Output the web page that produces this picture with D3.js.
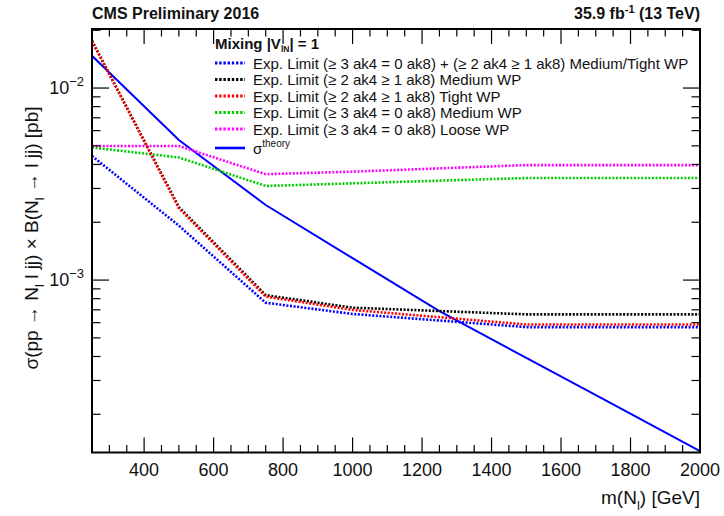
<!DOCTYPE html>
<html>
<head>
<meta charset="utf-8">
<script src="https://cdn.jsdelivr.net/npm/d3@7"></script>
<style>
  body { margin: 0; background: #fff; }
  svg { font-family: "Liberation Sans", Arial, sans-serif; }
</style>
</head>
<body>
<svg id="svg" width="724" height="516"></svg>
<script>
// masses (GeV)
const masses = [250, 500, 750, 1000, 1500, 2000];
const theoryMasses = [250, 500, 750, 1000, 1250, 1500, 1750, 2000];

// expected limits [pb]
const combined = [0.00443, 0.00192, 0.000762, 0.000666, 0.000569, 0.000569];
const boostedMedium = [0.0176, 0.00240, 0.000835, 0.000718, 0.000663, 0.000663];
const boostedTight = [0.0176, 0.00237, 0.000820, 0.000699, 0.000587, 0.000587];
const resolvedMedium = [0.0049, 0.00435, 0.00309, 0.00319, 0.0034, 0.0034];
const resolvedLoose = [0.00499, 0.00499, 0.00356, 0.00367, 0.00397, 0.00397];
const theory = [0.01473, 0.00536, 0.00246, 0.00130, 0.00069, 0.000393, 0.000225, 0.0001285];

const xTicks = [400, 600, 800, 1000, 1200, 1400, 1600, 1800, 2000];
const yDecades = [-2, -3];

const series = [
  { label: "Exp. Limit (\u2265 3 ak4 = 0 ak8) + (\u2265 2 ak4 \u2265 1 ak8) Medium/Tight WP", x: masses, y: combined, color: "#0000ff", dotted: true },
  { label: "Exp. Limit (\u2265 2 ak4 \u2265 1 ak8) Medium WP", x: masses, y: boostedMedium, color: "#000000", dotted: true },
  { label: "Exp. Limit (\u2265 2 ak4 \u2265 1 ak8) Tight WP", x: masses, y: boostedTight, color: "#ff0000", dotted: true },
  { label: "Exp. Limit (\u2265 3 ak4 = 0 ak8) Medium WP", x: masses, y: resolvedMedium, color: "#00cc00", dotted: true },
  { label: "Exp. Limit (\u2265 3 ak4 = 0 ak8) Loose WP", x: masses, y: resolvedLoose, color: "#ff00ff", dotted: true },
  { label: "theory", x: theoryMasses, y: theory, color: "#0000ff", dotted: false }
];

const svg = d3.select("#svg");
const margin = { top: 29, right: 24, bottom: 63.5, left: 92 };
const width = 724 - margin.left - margin.right;
const height = 516 - margin.top - margin.bottom;

const x = d3.scaleLinear().domain([250, 2000]).range([0, width]);
const y = d3.scaleLog().domain([1.265e-4, 0.0203]).range([height, 0]);

const g = svg.append("g").attr("transform", "translate(" + margin.left + "," + margin.top + ")");

svg.append("defs").append("clipPath").attr("id", "clip")
  .append("rect").attr("width", width).attr("height", height);

// lines
const line = d3.line().x(d => x(d[0])).y(d => y(d[1]));
const plot = g.append("g").attr("clip-path", "url(#clip)");
// draw order: theory first, then limits
[5, 3, 4, 0, 1, 2].forEach(i => {
  const s = series[i];
  plot.append("path")
    .datum(s.x.map((m, j) => [m, s.y[j]]))
    .attr("fill", "none")
    .attr("stroke", s.color)
    .attr("stroke-width", s.dotted ? 2.6 : 2)
    .attr("stroke-dasharray", s.dotted ? "2,1.6" : null)
    .attr("d", line);
});

// ticks (ROOT style, inward on all four sides)
const minorX = d3.range(250, 2001, 50);
const tickG = g.append("g").attr("stroke", "#000").attr("stroke-width", 1.2);
minorX.forEach(m => {
  const major = m % 200 === 0;
  const len = major ? 15 : 7.5;
  tickG.append("line").attr("x1", x(m)).attr("x2", x(m)).attr("y1", height).attr("y2", height - len);
  tickG.append("line").attr("x1", x(m)).attr("x2", x(m)).attr("y1", 0).attr("y2", len);
});
const yMinor = [];
[-4, -3, -2].forEach(e => {
  for (let k = 1; k <= 9; k++) yMinor.push({ v: k * Math.pow(10, e), major: k === 1 });
});
yMinor.filter(t => t.v >= y.domain()[0] && t.v <= y.domain()[1]).forEach(t => {
  const len = t.major ? 17 : 8.5;
  tickG.append("line").attr("x1", 0).attr("x2", len).attr("y1", y(t.v)).attr("y2", y(t.v));
  tickG.append("line").attr("x1", width).attr("x2", width - len).attr("y1", y(t.v)).attr("y2", y(t.v));
});

// frame
g.append("rect").attr("width", width).attr("height", height)
  .attr("fill", "none").attr("stroke", "#000").attr("stroke-width", 2);

// x tick labels
g.append("g").selectAll("text").data(xTicks).enter().append("text")
  .attr("x", d => x(d)).attr("y", height + 23)
  .attr("text-anchor", "middle").attr("font-size", 18).attr("fill", "#111")
  .text(d => d);

// y tick labels
yDecades.forEach(e => {
  const t = g.append("text").attr("x", -8).attr("y", y(Math.pow(10, e)) + 6)
    .attr("text-anchor", "end").attr("font-size", 18).attr("fill", "#111");
  t.append("tspan").text("10");
  t.append("tspan").attr("font-size", 13).attr("dy", -8).text("\u2212" + (-e));
});

// axis titles
const xt = svg.append("text").attr("x", 700).attr("y", 504)
  .attr("text-anchor", "end").attr("font-size", 19).attr("fill", "#111");
xt.append("tspan").text("m(N");
xt.append("tspan").attr("font-size", 13).attr("dy", 6).text("l");
xt.append("tspan").attr("dy", -6).text(") [GeV]");

const yt = svg.append("text").attr("transform", "translate(38," + 238 + ") rotate(-90)")
  .attr("text-anchor", "middle").attr("font-size", 19).attr("fill", "#111");
yt.append("tspan").text("\u03c3(pp \u2192 N");
yt.append("tspan").attr("font-size", 13).attr("dy", 6).text("l");
yt.append("tspan").attr("dy", -6).text(" l jj) \u00d7 B(N");
yt.append("tspan").attr("font-size", 13).attr("dy", 6).text("l");
yt.append("tspan").attr("dy", -6).text(" \u2192 l jj) [pb]");

// header
svg.append("text").attr("x", 92).attr("y", 19).attr("font-size", 16).attr("font-weight", "bold")
  .attr("fill", "#111").text("CMS Preliminary 2016");
const lumi = svg.append("text").attr("x", 700).attr("y", 19).attr("text-anchor", "end")
  .attr("font-size", 16).attr("font-weight", "bold").attr("fill", "#111");
lumi.append("tspan").text("35.9 fb");
lumi.append("tspan").attr("font-size", 11).attr("dy", -6).text("-1");
lumi.append("tspan").attr("dy", 6).text(" (13 TeV)");

// legend
const leg = svg.append("g").attr("transform", "translate(215,0)");
const lt = leg.append("text").attr("x", 0).attr("y", 49).attr("font-size", 15)
  .attr("font-weight", "bold").attr("fill", "#111");
lt.append("tspan").text("Mixing |V");
lt.append("tspan").attr("font-size", 8.5).attr("dy", 3).text("lN");
lt.append("tspan").attr("dy", -3).text("| = 1");

const rowY = [63, 79.5, 96, 112.5, 129, 148];
series.forEach((s, i) => {
  leg.append("line").attr("x1", 0).attr("x2", 30).attr("y1", rowY[i]).attr("y2", rowY[i])
    .attr("stroke", s.color).attr("stroke-width", s.dotted ? 3 : 2.6)
    .attr("stroke-dasharray", s.dotted ? "2.4,1.8" : null);
  const t = leg.append("text").attr("x", 38).attr("y", rowY[i] + 5.5).attr("font-size", 15)
    .attr("fill", "#111");
  if (s.dotted) {
    t.text(s.label);
  } else {
    t.append("tspan").text("\u03c3");
    t.append("tspan").attr("font-size", 10).attr("dy", -7).text("theory");
  }
});
</script>
</body>
</html>
